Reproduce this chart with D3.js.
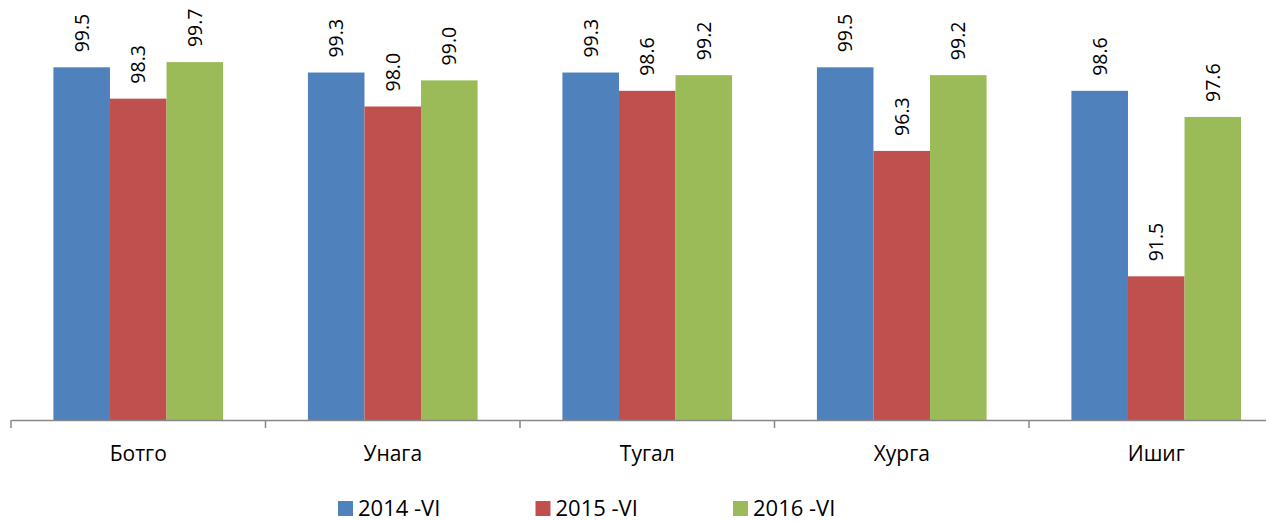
<!DOCTYPE html>
<html>
<head>
    <meta charset="utf-8">
    <style>
        body { margin: 0; background: #fff; }
        svg { display: block; font-family: 'Open Sans', 'Noto Sans', sans-serif; }
    </style>
</head>
<body>
<svg width="1266" height="521"></svg>
<script src="https://d3js.org/d3.v7.min.js"></script>
<script>
    // data
    let categories = ["Ботго", "Унага", "Тугал", "Хурга", "Ишиг"]
    let seriesNames = ["2014 -VI", "2015 -VI", "2016 -VI"]
    let values2014 = [99.5, 99.3, 99.3, 99.5, 98.6]
    let values2015 = [98.3, 98.0, 98.6, 96.3, 91.5]
    let values2016 = [99.7, 99.0, 99.2, 99.2, 97.6]
    let colors = ["#4f81bd", "#c0504d", "#9bbb59"]

    let allSeries = [values2014, values2015, values2016]

    let svg = d3.select("svg")

    // plot runs past the right edge like the original image
    let x = d3.scaleBand()
        .domain(categories)
        .range([11, 1283.5])

    let inner = d3.scaleBand()
        .domain(seriesNames)
        .range([0, x.bandwidth()])
        .paddingInner(0)
        .paddingOuter(0.75)

    let y = d3.scaleLinear()
        .domain([86, 100])
        .range([420, 54.25])

    let rows = []
    categories.forEach((c, i) => {
        seriesNames.forEach((s, j) => {
            rows.push({cat: c, series: s, value: allSeries[j][i], color: colors[j]})
        })
    })

    svg.append("g")
        .selectAll("rect")
        .data(rows)
        .join("rect")
        .attr("x", d => x(d.cat) + inner(d.series))
        .attr("y", d => y(d.value))
        .attr("width", inner.bandwidth())
        .attr("height", d => y.range()[0] - y(d.value))
        .attr("fill", d => d.color)

    // value labels, rotated
    svg.append("g")
        .selectAll("text")
        .data(rows)
        .join("text")
        .attr("transform", d => {
            let cx = x(d.cat) + inner(d.series) + inner.bandwidth() / 2
            return "translate(" + cx + "," + (y(d.value) - 15) + ") rotate(-90)"
        })
        .attr("dy", "0.36em")
        .style("font-size", "19.5px")
        .style("fill", "#000")
        .text(d => d.value.toFixed(1))

    // x axis
    let xAxis = d3.axisBottom(x).tickSize(0).tickSizeOuter(0)
    let gx = svg.append("g")
        .attr("transform", "translate(0,420)")
        .call(xAxis)
    gx.select(".domain").attr("stroke", "#878787").attr("stroke-width", 1.5)
    gx.selectAll(".tick text")
        .attr("y", 0)
        .attr("dy", "41px")
        .style("font-size", "21px")
        .style("font-family", "'Open Sans', sans-serif")
        .style("fill", "#000")

    // tick marks at the band edges
    let edges = categories.map(c => x(c)).concat([x.range()[1]])
    gx.selectAll(".edge")
        .data(edges)
        .join("line")
        .attr("class", "edge")
        .attr("x1", d => d).attr("x2", d => d)
        .attr("y1", 0).attr("y2", 8)
        .attr("stroke", "#878787")
        .attr("stroke-width", 1.5)

    // legend
    let legend = svg.append("g")
        .selectAll("g")
        .data(seriesNames)
        .join("g")
        .attr("transform", (d, i) => "translate(" + (338 + i * 197.5) + ",501)")
    legend.append("rect")
        .attr("width", 15).attr("height", 15)
        .attr("fill", (d, i) => colors[i])
    legend.append("text")
        .attr("x", 20)
        .attr("y", 15)
        .style("font-size", "22px")
        .style("fill", "#000")
        .text(d => d)
</script>
</body>
</html>
